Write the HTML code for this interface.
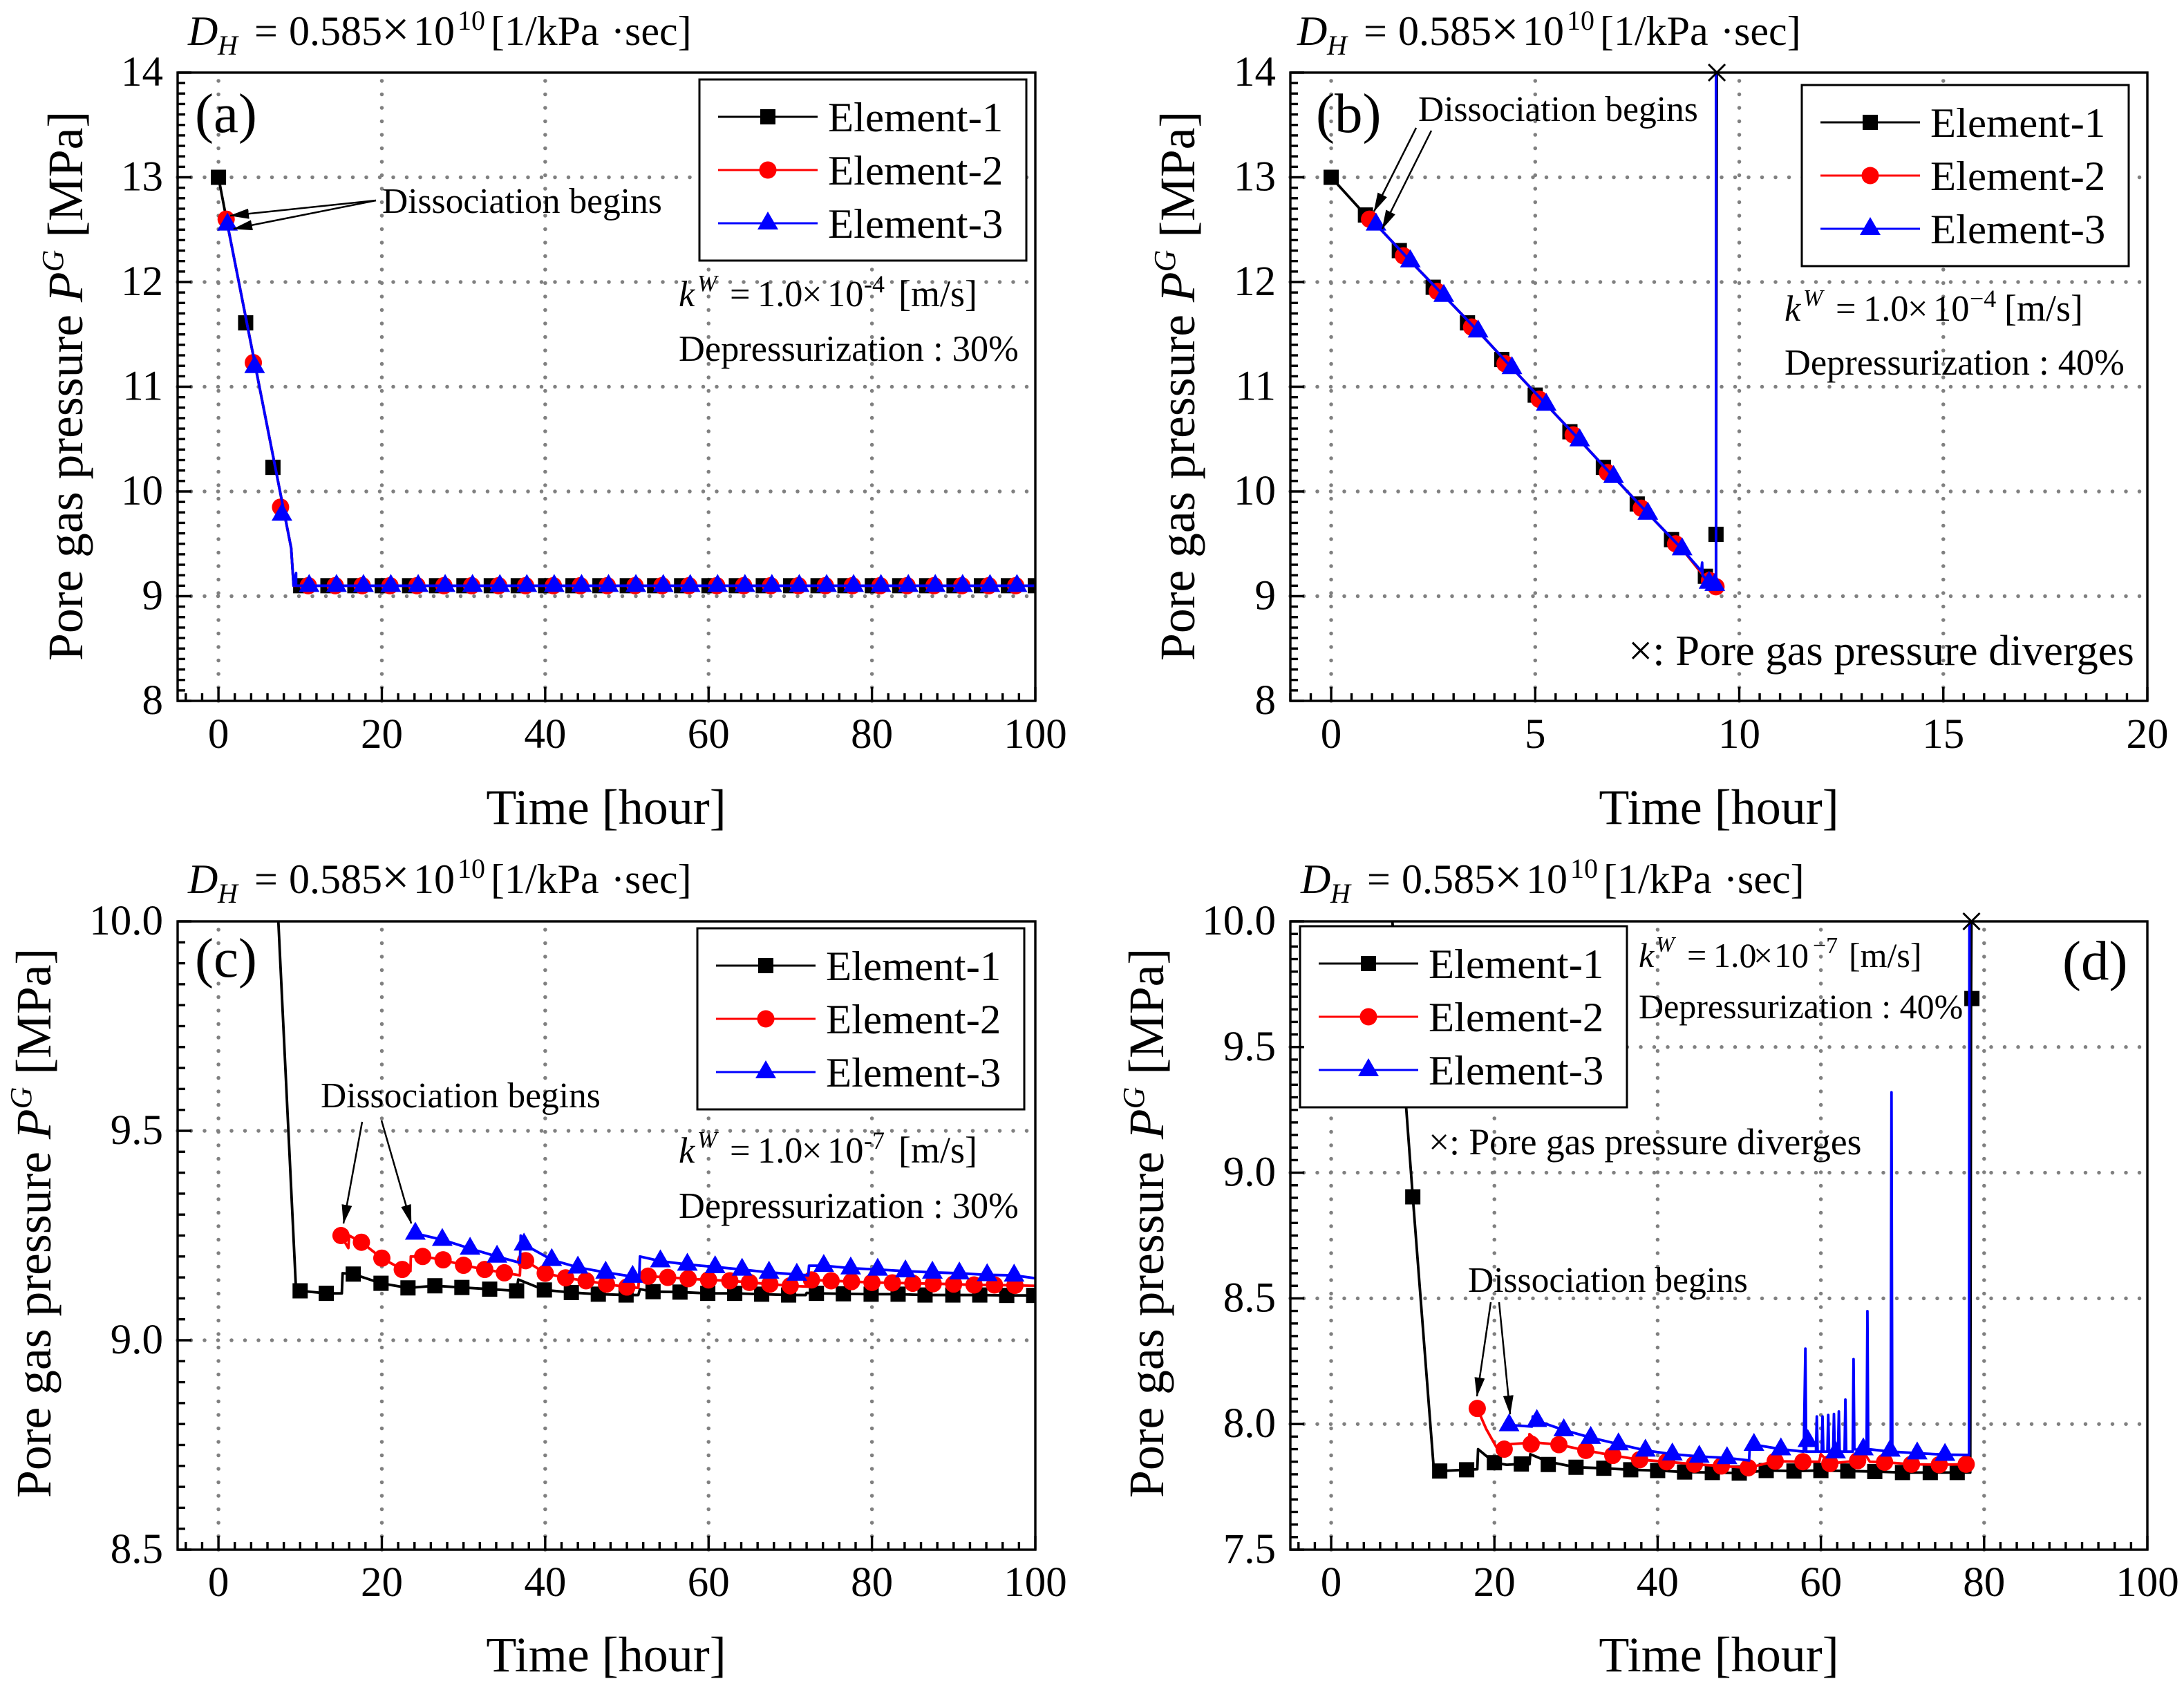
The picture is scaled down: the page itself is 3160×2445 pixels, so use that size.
<!DOCTYPE html>
<html lang="en">
<head>
<meta charset="utf-8">
<title>Pore gas pressure vs time</title>
<style>
html,body{margin:0;padding:0;background:#fff;}
svg{display:block;}
text{font-family:"Liberation Serif",serif;fill:#000;}
.t60{font-size:60px;}
.t70{font-size:72px;}
.t52{font-size:52.4px;}
.t50{font-size:50px;}
.t51{font-size:51.5px;}
.mu{font-size:54px;}
.ytitle{font-size:71.6px;}
.xtitle{font-size:72px;}
.plabel{font-size:81px;}
.tick{font-size:61px;}
</style>
</head>
<body>
<svg id="figure" xmlns="http://www.w3.org/2000/svg" width="3160" height="2445" viewBox="0 0 3160 2445">
<defs>
<marker id="ah" markerUnits="userSpaceOnUse" markerWidth="28" markerHeight="15" refX="27" refY="7.5" orient="auto"><path d="M0 0L28 7.5L0 15z" fill="#000"/></marker>
<clipPath id="clip-a"><rect x="257" y="105" width="1241" height="909"/></clipPath>
<clipPath id="clip-b"><rect x="1867" y="105" width="1240" height="909"/></clipPath>
<clipPath id="clip-c"><rect x="257" y="1333" width="1241" height="909"/></clipPath>
<clipPath id="clip-d"><rect x="1867" y="1333" width="1240" height="909"/></clipPath>
</defs>
<rect width="3160" height="2445" fill="#fff"/>
<g id="plots"></g>

<!-- Panel a text -->
<g transform="translate(272,65)">
<text class="t60" font-style="italic">D</text><text x="43" y="14" font-size="40" font-style="italic">H</text>
<text class="t60" x="96">=</text><text class="t60" x="146">0.585</text><text class="t70" x="280" y="1">×</text><text class="t60" x="326">10</text>
<text x="390" y="-22" font-size="40">10</text><text class="t60" x="438">[1/kPa</text><text class="t60" x="612">·</text><text class="t60" x="632">sec]</text>
</g>
<text class="ytitle" transform="translate(119,956) rotate(-90)">Pore gas pressure <tspan font-style="italic">P</tspan><tspan font-size="44" font-style="italic" dy="-28">G</tspan><tspan dy="28"> [MPa]</tspan></text>
<text class="xtitle" x="877" y="1192" text-anchor="middle">Time [hour]</text>
<text class="plabel" x="282" y="191">(a)</text>
<text class="t51" x="553" y="308">Dissociation begins</text>
<line x1="544" y1="290" x2="333" y2="312" stroke="#000" stroke-width="2.5" marker-end="url(#ah)"/>
<line x1="544" y1="290" x2="338" y2="331" stroke="#000" stroke-width="2.5" marker-end="url(#ah)"/>
<g transform="translate(982,443)">
<text class="t52" font-style="italic">k</text><text x="27" y="-22" font-size="34" font-style="italic">W</text><text class="t52" x="74">=</text><text class="t52" x="114">1.0</text><text class="t52" x="178">×</text><text class="t52" x="215">10</text><text x="268" y="-20" font-size="36">-4</text><text class="mu" x="318">[m/s]</text>
</g>
<text class="t52" x="982" y="522">Depressurization : 30%</text>

<!-- Panel b text -->
<g transform="translate(1877,65)">
<text class="t60" font-style="italic">D</text><text x="43" y="14" font-size="40" font-style="italic">H</text>
<text class="t60" x="96">=</text><text class="t60" x="146">0.585</text><text class="t70" x="280" y="1">×</text><text class="t60" x="326">10</text>
<text x="390" y="-22" font-size="40">10</text><text class="t60" x="438">[1/kPa</text><text class="t60" x="612">·</text><text class="t60" x="632">sec]</text>
</g>
<text class="ytitle" transform="translate(1728,956) rotate(-90)">Pore gas pressure <tspan font-style="italic">P</tspan><tspan font-size="44" font-style="italic" dy="-28">G</tspan><tspan dy="28"> [MPa]</tspan></text>
<text class="xtitle" x="2487" y="1192" text-anchor="middle">Time [hour]</text>
<text class="plabel" x="1904" y="191">(b)</text>
<text class="t51" x="2052" y="175">Dissociation begins</text>
<line x1="2049" y1="185" x2="1988" y2="306" stroke="#000" stroke-width="2.5" marker-end="url(#ah)"/>
<line x1="2071" y1="189" x2="2000" y2="331" stroke="#000" stroke-width="2.5" marker-end="url(#ah)"/>
<g transform="translate(2582,464)">
<text class="t52" font-style="italic">k</text><text x="27" y="-22" font-size="34" font-style="italic">W</text><text class="t52" x="74">=</text><text class="t52" x="114">1.0</text><text class="t52" x="178">×</text><text class="t52" x="215">10</text><text x="268" y="-20" font-size="36">−4</text><text class="mu" x="318">[m/s]</text>
</g>
<text class="t52" x="2582" y="542">Depressurization : 40%</text>
<text font-size="62.5" x="2356" y="962">×: Pore gas pressure diverges</text>

<!-- Panel c text -->
<g transform="translate(272,1292)">
<text class="t60" font-style="italic">D</text><text x="43" y="14" font-size="40" font-style="italic">H</text>
<text class="t60" x="96">=</text><text class="t60" x="146">0.585</text><text class="t70" x="280" y="1">×</text><text class="t60" x="326">10</text>
<text x="390" y="-22" font-size="40">10</text><text class="t60" x="438">[1/kPa</text><text class="t60" x="612">·</text><text class="t60" x="632">sec]</text>
</g>
<text class="ytitle" transform="translate(73,2167) rotate(-90)">Pore gas pressure <tspan font-style="italic">P</tspan><tspan font-size="44" font-style="italic" dy="-28">G</tspan><tspan dy="28"> [MPa]</tspan></text>
<text class="xtitle" x="877" y="2418" text-anchor="middle">Time [hour]</text>
<text class="plabel" x="282" y="1413">(c)</text>
<text class="t51" x="464" y="1602">Dissociation begins</text>
<line x1="524" y1="1623" x2="497" y2="1770" stroke="#000" stroke-width="2.5" marker-end="url(#ah)"/>
<line x1="552" y1="1621" x2="595" y2="1770" stroke="#000" stroke-width="2.5" marker-end="url(#ah)"/>
<g transform="translate(982,1682)">
<text class="t52" font-style="italic">k</text><text x="27" y="-22" font-size="34" font-style="italic">W</text><text class="t52" x="74">=</text><text class="t52" x="114">1.0</text><text class="t52" x="178">×</text><text class="t52" x="215">10</text><text x="268" y="-20" font-size="36">-7</text><text class="mu" x="318">[m/s]</text>
</g>
<text class="t52" x="982" y="1762">Depressurization : 30%</text>

<!-- Panel d text -->
<g transform="translate(1882,1292)">
<text class="t60" font-style="italic">D</text><text x="43" y="14" font-size="40" font-style="italic">H</text>
<text class="t60" x="96">=</text><text class="t60" x="146">0.585</text><text class="t70" x="280" y="1">×</text><text class="t60" x="326">10</text>
<text x="390" y="-22" font-size="40">10</text><text class="t60" x="438">[1/kPa</text><text class="t60" x="612">·</text><text class="t60" x="632">sec]</text>
</g>
<text class="ytitle" transform="translate(1683,2167) rotate(-90)">Pore gas pressure <tspan font-style="italic">P</tspan><tspan font-size="44" font-style="italic" dy="-28">G</tspan><tspan dy="28"> [MPa]</tspan></text>
<text class="xtitle" x="2487" y="2418" text-anchor="middle">Time [hour]</text>
<text class="plabel" x="2984" y="1417">(d)</text>
<text class="t51" x="2124" y="1869">Dissociation begins</text>
<line x1="2157" y1="1884" x2="2137" y2="2020" stroke="#000" stroke-width="2.5" marker-end="url(#ah)"/>
<line x1="2169" y1="1884" x2="2185" y2="2046" stroke="#000" stroke-width="2.5" marker-end="url(#ah)"/>
<g transform="translate(2371,1399)">
<text class="t50" font-style="italic">k</text><text x="25" y="-22" font-size="32" font-style="italic">W</text><text class="t50" x="70">=</text><text class="t50" x="108">1.0</text><text class="t50" x="166">×</text><text class="t50" x="196">10</text><text x="252" y="-20" font-size="34">−7</text><text class="t50" x="304">[m/s]</text>
</g>
<text class="t50" x="2371" y="1473">Depressurization : 40%</text>
<text font-size="53.5" x="2067" y="1670">×: Pore gas pressure diverges</text>
</svg>

<script>
// ---------- axis ticks ----------
var aXTicks = [0,20,40,60,80,100];
var aYTicks = [8,9,10,11,12,13,14];
var aYLabels = ['8','9','10','11','12','13','14'];
var bXTicks = [0,5,10,15,20];
var bYTicks = [8,9,10,11,12,13,14];
var bYLabels = ['8','9','10','11','12','13','14'];
var cXTicks = [0,20,40,60,80,100];
var cYTicks = [8.5,9,9.5,10];
var cYLabels = ['8.5','9.0','9.5','10.0'];
var dXTicks = [0,20,40,60,80,100];
var dYTicks = [7.5,8,8.5,9,9.5,10];
var dYLabels = ['7.5','8.0','8.5','9.0','9.5','10.0'];

var seriesNames = ['Element-1','Element-2','Element-3'];

// ---------- panel a ----------
var aE1LineT = [0,1.1,8.9,9.2,10.07,100];
var aE1LineV = [13,12.55,9.46,9.1,9.1,9.1];
var aE1MarkT = [0,3.33,6.67,10.07,13.4,16.7,20.05,23.4,26.7,30.05,33.4,36.7,40.05,43.4,46.7,50.05,53.4,56.7,60.05,63.4,66.7,70.05,73.4,76.7,80.05,83.4,86.7,90.05,93.4,96.7,100];
var aE1MarkV = [13,11.61,10.23,9.1,9.1,9.1,9.1,9.1,9.1,9.1,9.1,9.1,9.1,9.1,9.1,9.1,9.1,9.1,9.1,9.1,9.1,9.1,9.1,9.1,9.1,9.1,9.1,9.1,9.1,9.1,9.1];
var aE2LineT = [1.1,8.9,9.2,11,100];
var aE2LineV = [12.55,9.46,9.1,9.1,9.1];
var aE2MarkT = [0.94,4.27,7.6,11,14.3,17.6,21,24.3,27.6,31,34.3,37.6,41,44.3,47.6,51,54.3,57.6,61,64.3,67.6,71,74.3,77.6,81,84.3,87.6,91,94.3,97.6];
var aE2MarkV = [12.6,11.23,9.85,9.1,9.1,9.1,9.1,9.1,9.1,9.1,9.1,9.1,9.1,9.1,9.1,9.1,9.1,9.1,9.1,9.1,9.1,9.1,9.1,9.1,9.1,9.1,9.1,9.1,9.1,9.1];
var aE3LineT = [1.1,8.9,9.2,9.5,9.5,11.1,100];
var aE3LineV = [12.55,9.46,9.1,9.22,9.1,9.1,9.1];
var aE3MarkT = [1.1,4.43,7.77,11.1,14.45,17.75,21.1,24.45,27.75,31.1,34.45,37.75,41.1,44.45,47.75,51.1,54.45,57.75,61.1,64.45,67.75,71.1,74.45,77.75,81.1,84.45,87.75,91.1,94.45,97.75];
var aE3MarkV = [12.55,11.19,9.78,9.1,9.1,9.1,9.1,9.1,9.1,9.1,9.1,9.1,9.1,9.1,9.1,9.1,9.1,9.1,9.1,9.1,9.1,9.1,9.1,9.1,9.1,9.1,9.1,9.1,9.1,9.1];

// ---------- panel b ----------
var bE1LineT = [0,0.84,1.1,1.94,2.76,3.6,4.43,5.27,6.09,6.92,7.76,8.6,9.26,9.4,9.43,9.43,9.45];
var bE1LineV = [13,12.64,12.55,12.2,11.87,11.53,11.18,10.83,10.49,10.14,9.79,9.45,9.13,9.11,9.11,9.59,14];
var bE1MarkT = [0,0.84,1.67,2.5,3.34,4.18,5,5.85,6.67,7.5,8.34,9.17,9.43];
var bE1MarkV = [13,12.64,12.3,11.95,11.61,11.26,10.92,10.57,10.23,9.88,9.54,9.19,9.59];
var bE2LineT = [0.94,1.1,1.94,2.76,3.6,4.43,5.27,6.09,6.92,7.76,8.6,9.26,9.43];
var bE2LineV = [12.6,12.55,12.2,11.87,11.53,11.18,10.83,10.49,10.14,9.79,9.45,9.13,9.09];
var bE2MarkT = [0.94,1.77,2.6,3.44,4.26,5.1,5.93,6.77,7.6,8.44,9.27,9.43];
var bE2MarkV = [12.6,12.25,11.91,11.57,11.22,10.88,10.54,10.18,9.84,9.5,9.15,9.09];
var bE3LineT = [1.1,1.94,2.76,3.6,4.43,5.27,6.09,6.92,7.76,8.6,9.07,9.09,9.1,9.26,9.4,9.43,9.43];
var bE3LineV = [12.55,12.2,11.87,11.53,11.18,10.83,10.49,10.14,9.79,9.45,9.24,9.32,9.2,9.13,9.11,9.11,14];
var bE3MarkT = [1.1,1.94,2.76,3.6,4.43,5.27,6.09,6.92,7.76,8.6,9.26,9.4];
var bE3MarkV = [12.55,12.2,11.87,11.53,11.18,10.83,10.49,10.14,9.79,9.45,9.13,9.11];
var bCrossT = [9.45];
var bCrossV = [14];

// ---------- panel c ----------
var cE1LineT = [7.33,9.5,10,13.2,15.1,15.2,16.5,19.9,23.2,26.5,29.8,33.2,36.5,36.7,39.9,43.2,46.5,49.9,51.4,51.6,53.2,56.5,59.9,63.2,66.5,69.8,71.9,72,73.2,76.5,79.9,83.2,86.5,89.9,93.2,96.5,100];
var cE1LineV = [10,9.118,9.118,9.112,9.112,9.16,9.158,9.136,9.125,9.13,9.126,9.122,9.118,9.145,9.12,9.114,9.11,9.108,9.108,9.122,9.116,9.115,9.112,9.112,9.11,9.108,9.108,9.113,9.112,9.111,9.11,9.11,9.108,9.108,9.108,9.107,9.107];
var cE1MarkT = [10,13.2,16.5,19.9,23.2,26.5,29.8,33.2,36.5,39.9,43.2,46.5,49.9,53.2,56.5,59.9,63.2,66.5,69.8,73.2,76.5,79.9,83.2,86.5,89.9,93.2,96.5,99.8];
var cE1MarkV = [9.118,9.112,9.158,9.136,9.125,9.13,9.126,9.122,9.118,9.12,9.114,9.11,9.108,9.116,9.115,9.112,9.112,9.11,9.108,9.112,9.111,9.11,9.11,9.108,9.108,9.108,9.107,9.107];
var cE2LineT = [15,15.9,16,17.5,20,22.5,23.5,23.55,25,27.5,30,32.6,35,36.9,37,37.6,40,42.5,45,47.5,50,51.4,51.5,52.6,55,57.5,60,62.6,65,67.5,70,72.2,72.3,75,77.5,80,82.5,85,87.5,90,92.5,95,97.5,100];
var cE2LineV = [9.25,9.22,9.25,9.234,9.196,9.169,9.165,9.2,9.2,9.192,9.179,9.169,9.161,9.155,9.2,9.19,9.16,9.149,9.142,9.134,9.127,9.125,9.153,9.153,9.15,9.147,9.144,9.142,9.138,9.134,9.13,9.128,9.144,9.142,9.14,9.138,9.137,9.136,9.135,9.134,9.132,9.132,9.131,9.13];
var cE2MarkT = [15,17.5,20,22.5,25,27.5,30,32.6,35,37.6,40,42.5,45,47.5,50,52.6,55,57.5,60,62.6,65,67.5,70,72.6,75,77.5,80,82.5,85,87.5,90,92.5,95,97.5];
var cE2MarkV = [9.25,9.234,9.196,9.169,9.2,9.192,9.179,9.169,9.161,9.19,9.16,9.149,9.142,9.134,9.127,9.153,9.15,9.147,9.144,9.142,9.138,9.134,9.13,9.144,9.142,9.14,9.138,9.137,9.136,9.135,9.134,9.132,9.132,9.131];
var cE3LineT = [24.1,27.4,30.8,34.1,36.9,37,37.4,40.8,44,47.4,50.7,51.5,51.6,54.1,57.4,60.8,64.1,67.4,70.8,72.2,72.3,74.1,77.4,80.7,84.1,87.4,90.7,94.1,97.4,100];
var cE3LineV = [9.255,9.24,9.219,9.2,9.185,9.25,9.229,9.192,9.174,9.162,9.152,9.15,9.2,9.189,9.181,9.175,9.169,9.162,9.157,9.155,9.178,9.178,9.172,9.169,9.165,9.162,9.16,9.156,9.155,9.148];
var cE3MarkT = [24.1,27.4,30.8,34.1,37.4,40.8,44,47.4,50.7,54.1,57.4,60.8,64.1,67.4,70.8,74.1,77.4,80.7,84.1,87.4,90.7,94.1,97.4];
var cE3MarkV = [9.255,9.24,9.219,9.2,9.229,9.192,9.174,9.162,9.152,9.189,9.181,9.175,9.169,9.162,9.157,9.178,9.172,9.169,9.165,9.162,9.16,9.156,9.155];

// ---------- panel d ----------
var dE1LineT = [7.5,10,12.6,13.3,16.6,17.9,18,20,21.5,23.3,24.3,24.4,26.6,30,33.4,36.7,40,43.3,46.7,50,53.3,56.7,60,63.3,66.6,70,73.4,76.7,78.3,78.4,78.45];
var dE1LineV = [10,8.904,7.81,7.813,7.818,7.82,7.9,7.846,7.838,7.841,7.84,7.88,7.85,7.828,7.824,7.818,7.815,7.809,7.807,7.805,7.815,7.813,7.815,7.813,7.811,7.807,7.807,7.807,7.807,9.693,10];
var dE1MarkT = [10,13.3,16.6,20,23.3,26.6,30,33.4,36.7,40,43.3,46.7,50,53.3,56.7,60,63.3,66.6,70,73.4,76.7,78.5];
var dE1MarkV = [8.904,7.813,7.818,7.846,7.841,7.839,7.828,7.824,7.818,7.815,7.809,7.807,7.805,7.815,7.813,7.815,7.813,7.811,7.807,7.807,7.807,9.693];
var dE2LineT = [17.9,19,20.3,21.2,22,24.2,24.3,25.5,27.9,31.2,34.5,37.8,41.1,44.5,47.8,51.1,54.4,57.8,59.8,60,61.1,64.5,65,66,67.8,71.1,74.5,77.8];
var dE2LineV = [8.062,7.98,7.905,7.9,7.92,7.925,7.96,7.925,7.918,7.895,7.875,7.858,7.85,7.84,7.833,7.826,7.852,7.85,7.85,7.88,7.843,7.854,7.9,7.85,7.848,7.84,7.838,7.84];
var dE2MarkT = [17.9,21.2,24.5,27.9,31.2,34.5,37.8,41.1,44.5,47.8,51.1,54.4,57.8,61.1,64.5,67.8,71.1,74.5,77.8];
var dE2MarkV = [8.062,7.9,7.92,7.918,7.895,7.875,7.858,7.85,7.84,7.833,7.826,7.852,7.85,7.843,7.854,7.848,7.84,7.838,7.84];
var dE3LineT = [21.8,24.6,24.7,25.2,28.5,31.8,35.2,38.5,41.8,45.1,48.5,51.2,51.3,51.8,55.1,57.9,58.1,58.2,59.4,59.5,59.6,60.1,60.2,60.3,60.8,60.9,61,61.5,61.6,61.7,62.1,62.2,62.3,62.9,63,63.1,63.9,64,64.1,65.6,65.7,65.8,68.55,68.65,68.75,71.8,75.2,78.15,78.2];
var dE3LineV = [7.996,7.99,8.03,8.013,7.976,7.946,7.92,7.895,7.88,7.871,7.865,7.855,7.918,7.918,7.9,7.89,8.3,7.89,7.89,8.03,7.89,7.89,8.03,7.89,7.89,8.036,7.89,7.89,8.04,7.89,7.89,8.05,7.89,7.89,8.097,7.89,7.89,8.258,7.9,7.89,8.449,7.9,7.89,9.32,7.89,7.884,7.878,7.877,10];
var dE3MarkT = [21.8,25.2,28.5,31.8,35.2,38.5,41.8,45.1,48.5,51.8,55.1,58.4,61.8,65.2,68.5,71.8,75.2];
var dE3MarkV = [7.996,8.013,7.976,7.946,7.92,7.895,7.88,7.871,7.865,7.918,7.9,7.933,7.888,7.9,7.895,7.884,7.878];
var dCrossT = [78.45];
var dCrossV = [10];

// ---------- panel layout ----------
var panels = [
 {id:'a',x0:257,x1:1498,y0:1014,y1:105,xMin:-5,xMax:100,yMin:8,yMax:14,xTicks:aXTicks,yTicks:aYTicks,yLabels:aYLabels,xSub:10,ySub:10,yLabelX:236,xLabelY:1082,legX:1012,legY:115,
  series:[[aE1LineT,aE1LineV,aE1MarkT,aE1MarkV],[aE2LineT,aE2LineV,aE2MarkT,aE2MarkV],[aE3LineT,aE3LineV,aE3MarkT,aE3MarkV]]},
 {id:'b',x0:1867,x1:3107,y0:1014,y1:105,xMin:-1,xMax:20,yMin:8,yMax:14,xTicks:bXTicks,yTicks:bYTicks,yLabels:bYLabels,xSub:10,ySub:10,yLabelX:1846,xLabelY:1082,legX:2607,legY:123,crossT:bCrossT,crossV:bCrossV,
  series:[[bE1LineT,bE1LineV,bE1MarkT,bE1MarkV],[bE2LineT,bE2LineV,bE2MarkT,bE2MarkV],[bE3LineT,bE3LineV,bE3MarkT,bE3MarkV]]},
 {id:'c',x0:257,x1:1498,y0:2242,y1:1333,xMin:-5,xMax:100,yMin:8.5,yMax:10,xTicks:cXTicks,yTicks:cYTicks,yLabels:cYLabels,xSub:10,ySub:10,yLabelX:236,xLabelY:2309,legX:1009,legY:1343,
  series:[[cE1LineT,cE1LineV,cE1MarkT,cE1MarkV],[cE2LineT,cE2LineV,cE2MarkT,cE2MarkV],[cE3LineT,cE3LineV,cE3MarkT,cE3MarkV]]},
 {id:'d',x0:1867,x1:3107,y0:2242,y1:1333,xMin:-5,xMax:100,yMin:7.5,yMax:10,xTicks:dXTicks,yTicks:dYTicks,yLabels:dYLabels,xSub:10,ySub:10,yLabelX:1846,xLabelY:2309,legX:1881,legY:1340,crossT:dCrossT,crossV:dCrossV,
  series:[[dE1LineT,dE1LineV,dE1MarkT,dE1MarkV],[dE2LineT,dE2LineV,dE2MarkT,dE2MarkV],[dE3LineT,dE3LineV,dE3MarkT,dE3MarkV]]}
];
var seriesColors = ['#000000','#ff0000','#0000ff'];
var NS = 'http://www.w3.org/2000/svg';

function make(tag, attrs, parent){
  var el = document.createElementNS(NS, tag);
  for (var k in attrs) el.setAttribute(k, attrs[k]);
  parent.appendChild(el);
  return el;
}
function drawMarker(parent, kind, x, y, color){
  var el;
  if (kind === 0) {
    el = make('rect', {x:x-11, y:y-11, width:22, height:22, fill:color}, parent);
  } else if (kind === 1) {
    el = make('circle', {cx:x, cy:y, r:12.5, fill:color}, parent);
  } else {
    el = make('polygon', {points:(x)+','+(y-17)+' '+(x+15)+','+(y+9)+' '+(x-15)+','+(y+9), fill:color}, parent);
  }
  
  
  return el;
}
function drawCross(parent, x, y){
  var el = make('path', {d:'M'+(x-12)+' '+(y-12)+'L'+(x+12)+' '+(y+12)+'M'+(x+12)+' '+(y-12)+'L'+(x-12)+' '+(y+12), stroke:'#000', 'stroke-width':3, fill:'none'}, parent);
  
  
}

function drawPanel(p){
  var root = document.getElementById('plots');
  var g = make('g', {}, root);
  
  
  function sx(t){ return p.x0 + (t - p.xMin) * (p.x1 - p.x0) / (p.xMax - p.xMin); }
  function sy(v){ return p.y0 + (v - p.yMin) * (p.y1 - p.y0) / (p.yMax - p.yMin); }

  // grid
  var grid = make('g', {stroke:'#808080','stroke-width':5.5,'stroke-linecap':'round','stroke-dasharray':'0 19.5',fill:'none'}, g);
  
  
  p.xTicks.forEach(function(t){
    if (t > p.xMin && t < p.xMax) {
      var l = make('line', {x1:sx(t), x2:sx(t), y1:p.y0, y2:p.y1}, grid);
      
      
    }
  });
  p.yTicks.forEach(function(v){
    if (v > p.yMin && v < p.yMax) {
      var l = make('line', {x1:p.x0, x2:p.x1, y1:sy(v), y2:sy(v)}, grid);
      
      
    }
  });

  // series
  var plot = make('g', {'clip-path':'url(#clip-' + p.id + ')'}, g);
  
  
  p.series.forEach(function(s, i){
    var sg = make('g', {}, plot);
    
    
    var d = '';
    for (var k = 0; k < s[0].length; k++) d += (k ? 'L' : 'M') + sx(s[0][k]).toFixed(2) + ' ' + sy(s[1][k]).toFixed(2);
    var path = make('path', {d:d, fill:'none', stroke:seriesColors[i], 'stroke-width':3.8, 'stroke-linejoin':'round'}, sg);
    
    
    for (var m = 0; m < s[2].length; m++) drawMarker(sg, i, sx(s[2][m]), sy(s[3][m]), seriesColors[i]);
  });
  if (p.crossT) {
    for (var c = 0; c < p.crossT.length; c++) drawCross(g, sx(p.crossT[c]), sy(p.crossV[c]));
  }

  // legend
  var leg = make('g', {}, g);
  
  
  var box = make('rect', {x:p.legX, y:p.legY, width:473, height:262, fill:'#fff', stroke:'#000', 'stroke-width':3}, leg);
  
  
  seriesNames.forEach(function(name, i){
    var y = p.legY + 54 + 77 * i;
    var entry = make('g', {}, leg);
    
    
    make('line', {x1:p.legX+27, x2:p.legX+171, y1:y, y2:y, stroke:seriesColors[i], 'stroke-width':3}, entry);
    drawMarker(entry, i, p.legX + 99, y, seriesColors[i]);
    var tx = make('text', {x:p.legX+186, y:y+21, 'font-size':60.8}, entry);
    
    
    tx.textContent = name;
  });

  // ticks
  var ticks = make('g', {stroke:'#000','stroke-width':3.4,fill:'none'}, g);
  
  
  var xStep = (p.xTicks[1] - p.xTicks[0]) / p.xSub;
  var yStep = (p.yTicks[1] - p.yTicks[0]) / p.ySub;
  for (var n = Math.ceil((p.xMin - p.xTicks[0]) / xStep); p.xTicks[0] + n * xStep <= p.xMax + 1e-6; n++) {
    var tv = p.xTicks[0] + n * xStep;
    var major = (n % p.xSub === 0);
    var tl = make('line', {x1:sx(tv), x2:sx(tv), y1:p.y0, y2:p.y0 - (major ? 20 : 11)}, ticks);
    
    
  }
  for (var q = 0; p.yTicks[0] + q * yStep <= p.yMax + 1e-6; q++) {
    var yv = p.yTicks[0] + q * yStep;
    var ymajor = (q % p.ySub === 0);
    var yl = make('line', {x1:p.x0, x2:p.x0 + (ymajor ? 20 : 11), y1:sy(yv), y2:sy(yv)}, ticks);
    
    
  }

  // tick labels
  p.xTicks.forEach(function(t){
    var tx = make('text', {x:sx(t), y:p.xLabelY, 'text-anchor':'middle', 'class':'tick'}, g);
    
    
    tx.textContent = String(t);
  });
  p.yTicks.forEach(function(v, i){
    var tx = make('text', {x:p.yLabelX, y:sy(v) + 19, 'text-anchor':'end', 'class':'tick'}, g);
    
    
    tx.textContent = p.yLabels[i];
  });

  // frame
  var frame = make('rect', {x:p.x0, y:p.y1, width:p.x1 - p.x0, height:p.y0 - p.y1, fill:'none', stroke:'#000', 'stroke-width':3.4}, g);
  
  
}
panels.forEach(drawPanel);
</script>
</body>
</html>
